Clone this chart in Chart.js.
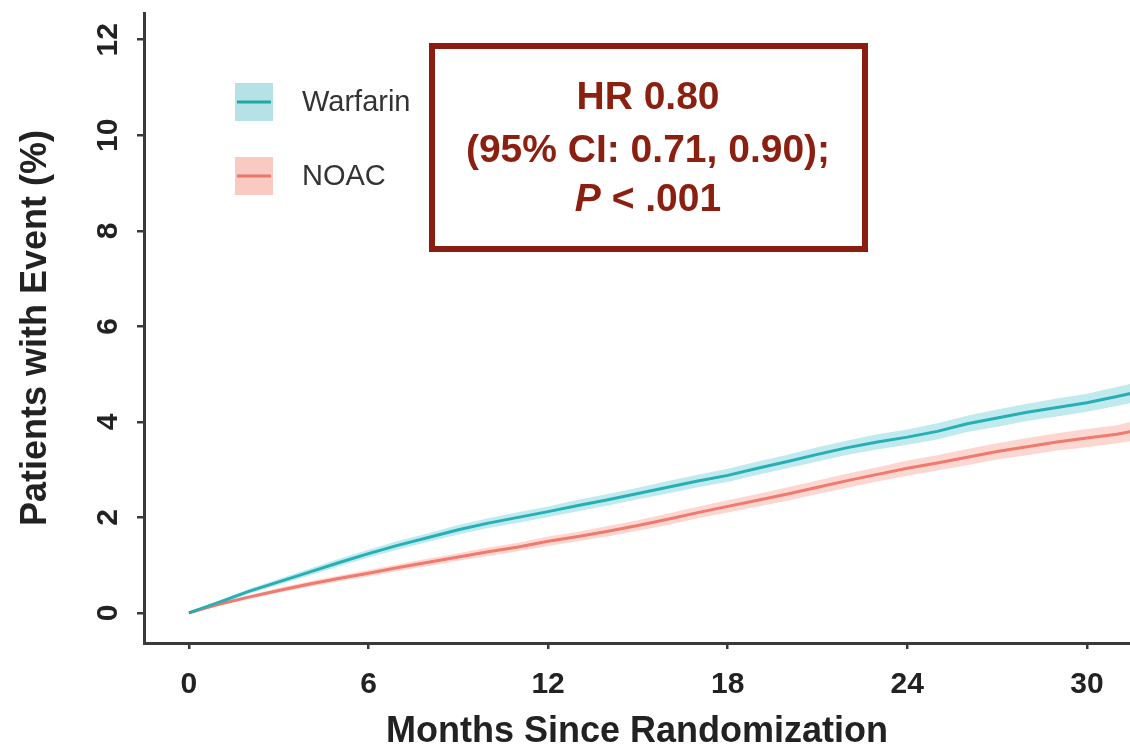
<!DOCTYPE html>
<html>
<head>
<meta charset="utf-8">
<script src="https://cdn.jsdelivr.net/npm/chart.js@4.4.1/dist/chart.umd.min.js"></script>
<style>
  html, body { margin: 0; padding: 0; background: #fff; }
  canvas { display: block; }
</style>
</head>
<body>
<canvas id="km" width="1130" height="746"></canvas>
<script>
// cumulative incidence (%)
const months = [0, 1, 2, 3, 4, 5, 6, 7, 8, 9, 10, 11, 12, 13, 14, 15, 16, 17, 18, 19, 20, 21, 22, 23, 24, 25, 26, 27, 28, 29, 30, 31, 31.5];
const warfarin = [0, 0.22, 0.45, 0.65, 0.85, 1.05, 1.24, 1.42, 1.58, 1.74, 1.88, 2.0, 2.12, 2.25, 2.37, 2.5, 2.63, 2.76, 2.88, 3.03, 3.17, 3.32, 3.46, 3.58, 3.68, 3.8, 3.96, 4.08, 4.2, 4.3, 4.4, 4.53, 4.6];
const warfarinLow = [0, 0.18, 0.4, 0.59, 0.78, 0.97, 1.16, 1.33, 1.49, 1.64, 1.78, 1.89, 2.01, 2.13, 2.25, 2.38, 2.5, 2.63, 2.74, 2.89, 3.03, 3.17, 3.31, 3.42, 3.52, 3.63, 3.79, 3.9, 4.02, 4.11, 4.21, 4.33, 4.4];
const warfarinHigh = [0, 0.26, 0.5, 0.71, 0.92, 1.13, 1.32, 1.51, 1.67, 1.84, 1.98, 2.11, 2.23, 2.37, 2.49, 2.62, 2.76, 2.89, 3.02, 3.17, 3.31, 3.47, 3.61, 3.74, 3.84, 3.97, 4.13, 4.26, 4.38, 4.49, 4.59, 4.73, 4.8];
const noac = [0, 0.18, 0.33, 0.47, 0.6, 0.72, 0.83, 0.95, 1.06, 1.17, 1.28, 1.38, 1.5, 1.6, 1.71, 1.83, 1.96, 2.1, 2.23, 2.36, 2.49, 2.63, 2.77, 2.9, 3.03, 3.14, 3.26, 3.38, 3.48, 3.58, 3.66, 3.74, 3.8];
const noacLow = [0, 0.15, 0.29, 0.42, 0.54, 0.66, 0.76, 0.88, 0.98, 1.09, 1.19, 1.29, 1.4, 1.5, 1.6, 1.72, 1.84, 1.98, 2.1, 2.23, 2.35, 2.49, 2.62, 2.75, 2.87, 2.98, 3.09, 3.21, 3.3, 3.4, 3.47, 3.55, 3.6];
const noacHigh = [0, 0.21, 0.37, 0.52, 0.66, 0.78, 0.9, 1.02, 1.14, 1.25, 1.37, 1.47, 1.6, 1.7, 1.82, 1.94, 2.08, 2.22, 2.36, 2.49, 2.63, 2.77, 2.92, 3.05, 3.19, 3.3, 3.43, 3.55, 3.66, 3.76, 3.85, 3.93, 4.0];

const xTicks = [0, 6, 12, 18, 24, 30];
const yTicks = [0, 2, 4, 6, 8, 10, 12];

const hrText = ["HR 0.80", "(95% CI: 0.71, 0.90);"];
const pText = ["P", " < .001"];

const TEAL = "rgb(28,168,172)";
const TEAL_BAND = "rgba(60,190,200,0.32)";
const SALMON = "rgb(236,118,106)";
const SALMON_BAND = "rgba(245,130,115,0.32)";
const AXIS = "#3a3a3a";
const BOX_RED = "#8b1c10";

function pts(values) {
  return months.map((m, i) => ({ x: m, y: values[i] }));
}

// legend squares + HR box drawn on top
const extras = {
  id: "extras",
  afterDraw(chart) {
    const ctx = chart.ctx;
    ctx.save();

    const legendItems = [
      { label: "Warfarin", line: TEAL, band: "rgb(182,226,230)" },
      { label: "NOAC", line: SALMON, band: "rgb(248,202,194)" },
    ];
    legendItems.forEach((item, i) => {
      const top = 83 + i * 74;
      ctx.fillStyle = item.band;
      ctx.fillRect(235, top, 38, 38);
      ctx.strokeStyle = item.line;
      ctx.lineWidth = 3;
      ctx.beginPath();
      ctx.moveTo(237, top + 19);
      ctx.lineTo(271, top + 19);
      ctx.stroke();
      ctx.fillStyle = "#333";
      ctx.font = "29px 'Liberation Sans', Arial, sans-serif";
      ctx.textAlign = "left";
      ctx.textBaseline = "middle";
      ctx.fillText(item.label, 302, top + 20);
    });

    // HR box
    ctx.strokeStyle = BOX_RED;
    ctx.lineWidth = 6;
    ctx.strokeRect(432, 46, 433, 203);

    const cx = 648;
    ctx.fillStyle = "rgb(140,32,16)";
    ctx.textBaseline = "middle";
    ctx.textAlign = "center";
    ctx.font = "bold 39px 'Liberation Sans', Arial, sans-serif";
    ctx.fillText(hrText[0], cx, 98);
    ctx.fillText(hrText[1], cx, 151);

    const italic = "italic bold 39px 'Liberation Sans', Arial, sans-serif";
    const upright = "bold 39px 'Liberation Sans', Arial, sans-serif";
    ctx.font = italic;
    const wP = ctx.measureText(pText[0]).width;
    ctx.font = upright;
    const wRest = ctx.measureText(pText[1]).width;
    let x0 = cx - (wP + wRest) / 2;
    ctx.textAlign = "left";
    ctx.font = italic;
    ctx.fillText(pText[0], x0, 200);
    ctx.font = upright;
    ctx.fillText(pText[1], x0 + wP, 200);

    ctx.restore();
  },
};

const tickFont = { family: "'Liberation Sans', Arial, sans-serif", size: 30, weight: "bold" };
const titleFont = { family: "'Liberation Sans', Arial, sans-serif", size: 36, weight: "bold", lineHeight: 0.9 };

new Chart(document.getElementById("km"), {
  type: "line",
  data: {
    datasets: [
      { label: "Warfarin low", data: pts(warfarinLow), borderWidth: 0, pointRadius: 0, fill: false },
      { label: "Warfarin high", data: pts(warfarinHigh), borderWidth: 0, pointRadius: 0, fill: "-1", backgroundColor: TEAL_BAND },
      { label: "NOAC low", data: pts(noacLow), borderWidth: 0, pointRadius: 0, fill: false },
      { label: "NOAC high", data: pts(noacHigh), borderWidth: 0, pointRadius: 0, fill: "-1", backgroundColor: SALMON_BAND },
      { label: "Warfarin", data: pts(warfarin), borderColor: TEAL, borderWidth: 3, pointRadius: 0, fill: false },
      { label: "NOAC", data: pts(noac), borderColor: SALMON, borderWidth: 3, pointRadius: 0, fill: false },
    ],
  },
  options: {
    responsive: false,
    animation: false,
    devicePixelRatio: 1,
    layout: { padding: { top: 13, right: 0, left: 0, bottom: 0 } },
    plugins: {
      legend: { display: false },
      tooltip: { enabled: false },
    },
    scales: {
      x: {
        type: "linear",
        min: -1.5,
        max: 31.44,
        afterBuildTicks: (s) => { s.ticks = xTicks.map((v) => ({ value: v })); },
        afterFit: (s) => {
          s.height = 103;
          s.paddingLeft = 0;
          s.paddingRight = 0;
        },
        ticks: { font: tickFont, color: "#222", padding: 18, autoSkip: false, maxRotation: 0 },
        grid: { drawOnChartArea: false, drawTicks: true, tickLength: 6, color: AXIS, lineWidth: 2.5 },
        border: { display: true, color: AXIS, width: 3 },
        title: { display: true, text: "Months Since Randomization", font: titleFont, color: "#222", padding: { bottom: -2, top: 0 } },
      },
      y: {
        min: -0.63,
        max: 12.56,
        afterBuildTicks: (s) => { s.ticks = yTicks.map((v) => ({ value: v })); },
        afterFit: (s) => {
          s.width = 144;
          s.paddingTop = 0;
          s.paddingBottom = 0;
        },
        ticks: { font: tickFont, color: "#222", padding: 12, minRotation: 90, maxRotation: 90, crossAlign: "center", autoSkip: false },
        grid: { drawOnChartArea: false, drawTicks: true, tickLength: 7, color: AXIS, lineWidth: 2.5 },
        border: { display: true, color: AXIS, width: 3 },
        title: { display: true, text: "Patients with Event (%)", font: titleFont, color: "#222", padding: { top: 20, bottom: 0 } },
      },
    },
  },
  plugins: [extras],
});
</script>
</body>
</html>
